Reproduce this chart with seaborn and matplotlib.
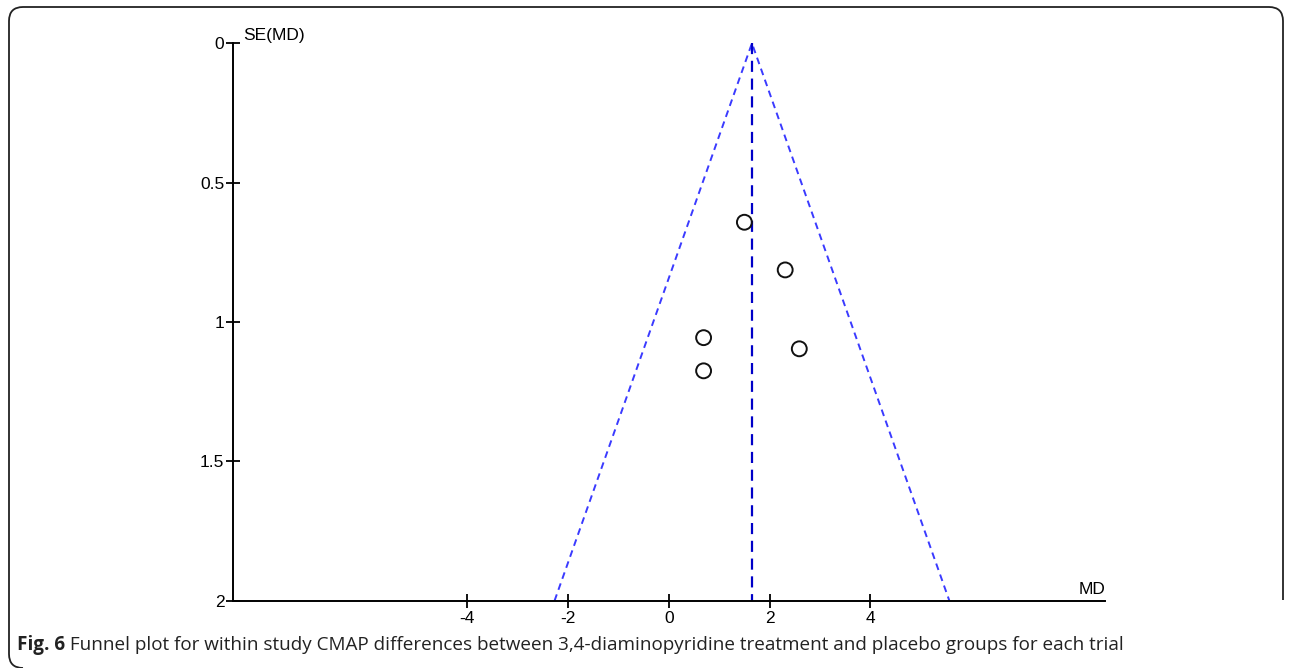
import matplotlib
matplotlib.use("Agg")
import matplotlib.pyplot as plt
import seaborn as sns
import numpy as np
import pandas as pd
from matplotlib.path import Path
from matplotlib.patches import PathPatch

# Data
md_values = [1.50, 2.31, 0.69, 2.59, 0.69]
se_values = [0.642, 0.813, 1.056, 1.096, 1.175]
pooled_md = 1.65
se_max = 2.0
x_ticks = [-4, -2, 0, 2, 4]
y_ticks = [0, 0.5, 1, 1.5, 2]
y_tick_labels = ["0", "0.5", "1", "1.5", "2"]
x_label = "MD"
y_label = "SE(MD)"
caption_bold = "Fig. 6"
caption_rest = " Funnel plot for within study CMAP differences between 3,4-diaminopyridine treatment and placebo groups for each trial"

sns.set_theme(style="white")
plt.rcParams['font.family'] = ['Liberation Sans', 'DejaVu Sans']

W, H = 1290, 668
fig = plt.figure(figsize=(W / 100, H / 100), dpi=100)
fig.patch.set_facecolor("white")

ax_left, ax_right = 232.7 / W, 1105 / W
ax_top, ax_bottom = 1 - 43.3 / H, 1 - 600.8 / H
ax = fig.add_axes([ax_left, ax_bottom, ax_right - ax_left, ax_top - ax_bottom])

df = pd.DataFrame({"MD": md_values, "SE": se_values})

# funnel lines
lower = pooled_md - 1.96 * se_max
upper = pooled_md + 1.96 * se_max
funnel = pd.DataFrame({"x": [lower, pooled_md, upper], "y": [se_max, 0, se_max]})
ax.plot(funnel["x"], funnel["y"], color="#3a3aff", lw=1.4, ls=(0, (3.5, 2.5)), zorder=2)
ax.plot([pooled_md, pooled_md], [0, se_max], color="#0000c8", lw=1.6, ls=(0, (5, 3)), zorder=2)

sns.scatterplot(data=df, x="MD", y="SE", ax=ax, marker="o", s=115,
                facecolor="none", edgecolor="#111111", linewidth=1.4, zorder=3)

ax.set_xlim(-8.66, 8.66)
ax.set_ylim(2, 0)
ax.set_xticks(x_ticks)
ax.set_xticklabels([str(t) for t in x_ticks])
ax.set_yticks(y_ticks)
ax.set_yticklabels(y_tick_labels)
ax.set_xlabel("")
ax.set_ylabel("")
for s in ["top", "right"]:
    ax.spines[s].set_visible(False)
for s in ["left", "bottom"]:
    ax.spines[s].set_color("black")
    ax.spines[s].set_linewidth(1.4)
ax.tick_params(axis="both", direction="inout", length=10, width=1.3, colors="black",
               labelsize=12.5, bottom=True, left=True)
ax.tick_params(axis="x", pad=2)
ax.tick_params(axis="y", pad=1)
ax.set_facecolor("white")

ax.text(0.012, 1.0, y_label, transform=ax.transAxes, fontsize=12.5, ha="left", va="bottom",
        color="black")
ax.text(1.0, 0.006, x_label, transform=ax.transAxes, fontsize=12.5, ha="right", va="bottom",
        color="black")

# caption
renderer = fig.canvas.get_renderer()
cap_y = 1 - 645 / H
t1 = fig.text(17 / W, cap_y, caption_bold, fontsize=13.6, fontweight="bold",
              family=["Open Sans", "DejaVu Sans"], ha="left", va="center", color="#222222")
bb = t1.get_window_extent(renderer=renderer)
fig.text(bb.x1 / W, cap_y, caption_rest, fontsize=13.6,
         family=["Open Sans", "DejaVu Sans"], ha="left", va="center", color="#222222")

# rounded frame
r = 14
xl, xr, yt, yb = 9, 1283, 7, 668
verts_px = [(xr, 600), (xr, yt + r), (xr, yt), (xr - r, yt), (xl + r, yt), (xl, yt),
            (xl, yt + r), (xl, yb - r), (xl, yb), (xl + r, yb)]
codes = [Path.MOVETO, Path.LINETO, Path.CURVE3, Path.CURVE3, Path.LINETO, Path.CURVE3,
         Path.CURVE3, Path.LINETO, Path.CURVE3, Path.CURVE3]
verts = [(x / W, 1 - y / H) for x, y in verts_px]
frame = PathPatch(Path(verts, codes), transform=fig.transFigure, fill=False,
                  edgecolor="#222222", lw=1.3)
fig.patches.append(frame)

fig.savefig("out.png", dpi=100, facecolor="white")
